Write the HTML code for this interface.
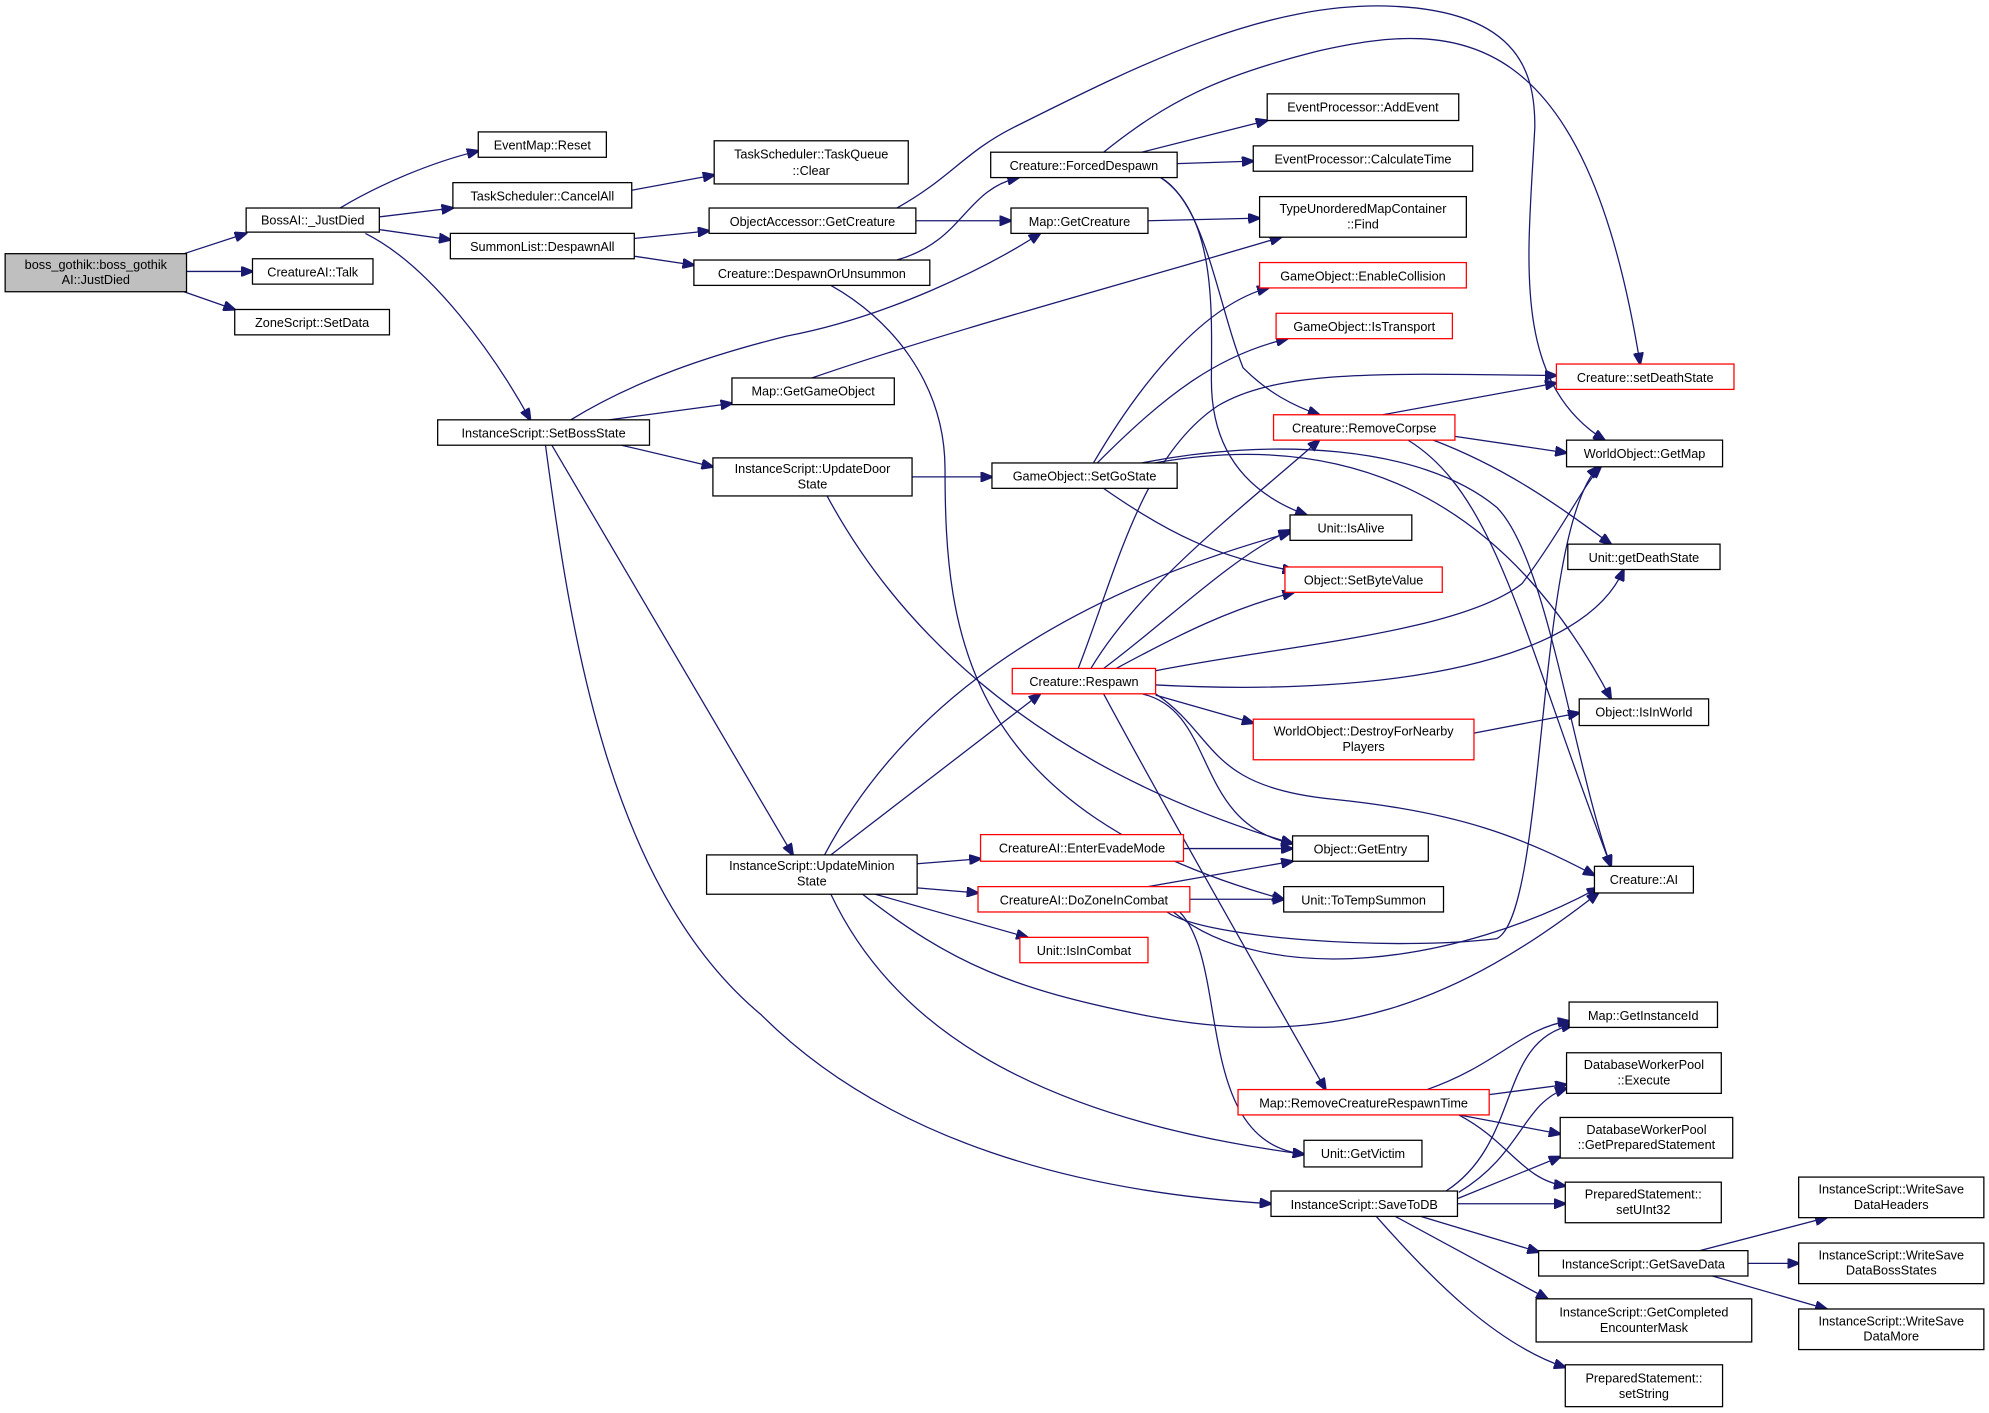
<!DOCTYPE html>
<html><head><meta charset="utf-8"><style>
html,body{margin:0;padding:0;background:#fff;}
svg{display:block;}
text{font-family:"Liberation Sans",sans-serif;font-size:10px;fill:#000;text-anchor:middle;}
.n{fill:#fff;stroke:#000;stroke-width:1;}
.r{fill:#fff;stroke:#ff0000;stroke-width:1;}
.g{fill:#bfbfbf;stroke:#000;stroke-width:1;}
path{fill:none;stroke:#191970;stroke-width:1;marker-end:url(#a);}
</style></head><body>
<svg width="1989" height="1413" viewBox="0 0 1568 1114" xmlns="http://www.w3.org/2000/svg">
<defs><marker id="a" markerWidth="10" markerHeight="8" refX="9" refY="4" orient="auto" markerUnits="userSpaceOnUse"><polygon points="0,0 10,4 0,8" fill="#191970" stroke="#191970"/></marker></defs>

<!-- edges -->
<path d="M145,200 L194,184"/>
<path d="M147,214 L199,214"/>
<path d="M145,230 L185,244"/>
<path d="M268,164 C300,145 340,128 377,119"/>
<path d="M299,171 L357,164"/>
<path d="M299,181 L355,189"/>
<path d="M288,184 C340,210 390,280 418,331"/>
<path d="M498,150 L563,138"/>
<path d="M500,188 L559,182"/>
<path d="M500,202 L547,209"/>
<path d="M722,174 L797,174"/>
<path d="M707,164 C750,140 760,120 800,100 C900,50 1000,0 1100,5 C1200,10 1210,60 1210,100 C1205,200 1190,300 1265,347"/>
<path d="M707,205 C760,190 760,150 803,140"/>
<path d="M655,225 C700,250 745,300 745,370 C745,500 760,640 1012,709"/>
<path d="M900,120 L999,95"/>
<path d="M928,129 L988,127"/>
<path d="M870,120 C920,80 960,60 1040,40 C1150,15 1250,20 1293,287"/>
<path d="M915,140 C950,160 960,240 980,290 C1000,310 1020,320 1040,327"/>
<path d="M915,140 C960,170 955,250 955,300 C955,370 1000,395 1030,406"/>
<path d="M905,174 L993,172"/>
<path d="M450,331 C500,300 560,280 620,265 C700,250 780,210 820,184"/>
<path d="M480,331 L577,318"/>
<path d="M490,351 L562,368"/>
<path d="M435,351 L625,674"/>
<path d="M430,351 C450,500 480,700 600,800 C700,900 850,940 1002,949"/>
<path d="M640,298 C750,260 900,220 1010,187"/>
<path d="M719,376 L782,376"/>
<path d="M652,391 C700,480 800,600 1019,665"/>
<path d="M862,365 C900,300 950,240 1000,227"/>
<path d="M865,365 C920,310 960,280 1015,267"/>
<path d="M870,385 C920,420 960,440 1020,450"/>
<path d="M900,365 C1000,345 1120,350 1180,400 C1220,440 1240,600 1270,683"/>
<path d="M910,365 C1050,340 1180,380 1270,551"/>
<path d="M850,527 C880,450 900,360 960,320 C1010,290 1100,295 1227,296"/>
<path d="M860,527 C900,460 980,400 1040,347"/>
<path d="M870,527 C920,490 970,440 1017,418"/>
<path d="M880,527 C930,500 970,480 1020,467"/>
<path d="M905,530 C1000,510 1150,500 1200,460 C1230,420 1250,380 1262,368"/>
<path d="M911,540 C1100,550 1250,520 1280,449"/>
<path d="M911,548 L988,570"/>
<path d="M900,547 C960,560 940,650 1019,665"/>
<path d="M911,547 C960,580 950,620 1050,630 C1150,640 1200,660 1257,690"/>
<path d="M870,547 C920,640 1000,780 1045,859"/>
<path d="M1162,578 L1245,562"/>
<path d="M1090,327 L1227,302"/>
<path d="M1147,344 L1235,357"/>
<path d="M1130,347 C1190,370 1230,400 1270,429"/>
<path d="M1110,347 C1180,390 1200,500 1270,683"/>
<path d="M650,674 C700,580 800,480 1017,420"/>
<path d="M655,674 L820,547"/>
<path d="M723,681 L773,677"/>
<path d="M723,700 L771,704"/>
<path d="M690,705 L810,739"/>
<path d="M680,705 C750,760 800,780 900,800 C1050,830 1150,790 1260,704"/>
<path d="M655,705 C700,800 800,880 1028,910"/>
<path d="M933,669 L1019,669"/>
<path d="M905,699 L1019,679"/>
<path d="M938,709 L1012,709"/>
<path d="M920,719 C950,740 1100,750 1180,740 C1220,720 1210,420 1260,368"/>
<path d="M925,719 C1000,780 1150,760 1260,700"/>
<path d="M930,719 C970,760 940,900 1028,910"/>
<path d="M1125,859 C1180,840 1200,810 1237,805"/>
<path d="M1174,863 L1235,855"/>
<path d="M1150,879 L1230,894"/>
<path d="M1150,879 C1190,900 1200,930 1234,935"/>
<path d="M1140,939 C1200,900 1180,820 1240,808"/>
<path d="M1150,940 C1200,910 1200,870 1235,858"/>
<path d="M1149,945 L1230,912"/>
<path d="M1149,949 L1234,949"/>
<path d="M1120,959 L1213,987"/>
<path d="M1100,959 L1220,1024"/>
<path d="M1085,959 C1130,1010 1180,1060 1234,1078"/>
<path d="M1340,986 L1440,960"/>
<path d="M1378,996 L1418,996"/>
<path d="M1350,1006 L1440,1032"/>

<!-- nodes -->
<rect class="g" x="4" y="200" width="143" height="30"/><text x="75.5" y="212">boss_gothik::boss_gothik</text><text x="75.5" y="224">AI::JustDied</text>
<rect class="n" x="194" y="164" width="105" height="19"/><text x="246.5" y="177">BossAI::_JustDied</text>
<rect class="n" x="199" y="204" width="95" height="20"/><text x="246.5" y="218">CreatureAI::Talk</text>
<rect class="n" x="185" y="244" width="122" height="20"/><text x="246" y="258">ZoneScript::SetData</text>
<rect class="n" x="377" y="104" width="101" height="20"/><text x="427.5" y="118">EventMap::Reset</text>
<rect class="n" x="357" y="144" width="141" height="20"/><text x="427.5" y="158">TaskScheduler::CancelAll</text>
<rect class="n" x="355" y="184" width="145" height="20"/><text x="427.5" y="198">SummonList::DespawnAll</text>
<rect class="n" x="345" y="331" width="167" height="20"/><text x="428.5" y="345">InstanceScript::SetBossState</text>
<rect class="n" x="563" y="111" width="153" height="34"/><text x="639.5" y="125">TaskScheduler::TaskQueue</text><text x="639.5" y="138">::Clear</text>
<rect class="n" x="559" y="164" width="163" height="20"/><text x="640.5" y="178">ObjectAccessor::GetCreature</text>
<rect class="n" x="547" y="205" width="186" height="20"/><text x="640" y="219">Creature::DespawnOrUnsummon</text>
<rect class="n" x="577" y="298" width="128" height="21"/><text x="641" y="312">Map::GetGameObject</text>
<rect class="n" x="562" y="361" width="157" height="30"/><text x="640.5" y="373">InstanceScript::UpdateDoor</text><text x="640.5" y="385">State</text>
<rect class="n" x="557" y="674" width="166" height="31"/><text x="640" y="686">InstanceScript::UpdateMinion</text><text x="640" y="698">State</text>
<rect class="n" x="781" y="120" width="147" height="20"/><text x="854.5" y="134">Creature::ForcedDespawn</text>
<rect class="n" x="797" y="164" width="108" height="20"/><text x="851" y="178">Map::GetCreature</text>
<rect class="n" x="782" y="365" width="146" height="20"/><text x="855" y="379">GameObject::SetGoState</text>
<rect class="r" x="798" y="527" width="113" height="20"/><text x="854.5" y="541">Creature::Respawn</text>
<rect class="r" x="773" y="658" width="160" height="21"/><text x="853" y="672">CreatureAI::EnterEvadeMode</text>
<rect class="r" x="771" y="699" width="167" height="20"/><text x="854.5" y="713">CreatureAI::DoZoneInCombat</text>
<rect class="r" x="804" y="739" width="101" height="20"/><text x="854.5" y="753">Unit::IsInCombat</text>
<rect class="n" x="999" y="74" width="151" height="21"/><text x="1074.5" y="88">EventProcessor::AddEvent</text>
<rect class="n" x="988" y="115" width="173" height="20"/><text x="1074.5" y="129">EventProcessor::CalculateTime</text>
<rect class="n" x="993" y="155" width="163" height="32"/><text x="1074.5" y="168">TypeUnorderedMapContainer</text><text x="1074.5" y="180">::Find</text>
<rect class="r" x="993" y="207" width="163" height="20"/><text x="1074.5" y="221">GameObject::EnableCollision</text>
<rect class="r" x="1006" y="247" width="139" height="20"/><text x="1075.5" y="261">GameObject::IsTransport</text>
<rect class="r" x="1004" y="327" width="143" height="20"/><text x="1075.5" y="341">Creature::RemoveCorpse</text>
<rect class="n" x="1017" y="406" width="96" height="20"/><text x="1065" y="420">Unit::IsAlive</text>
<rect class="r" x="1013" y="447" width="124" height="20"/><text x="1075" y="461">Object::SetByteValue</text>
<rect class="r" x="988" y="567" width="174" height="32"/><text x="1075" y="580">WorldObject::DestroyForNearby</text><text x="1075" y="592">Players</text>
<rect class="n" x="1019" y="659" width="107" height="20"/><text x="1072.5" y="673">Object::GetEntry</text>
<rect class="n" x="1012" y="699" width="126" height="20"/><text x="1075" y="713">Unit::ToTempSummon</text>
<rect class="r" x="976" y="859" width="198" height="20"/><text x="1075" y="873">Map::RemoveCreatureRespawnTime</text>
<rect class="n" x="1028" y="899" width="93" height="21"/><text x="1074.5" y="913">Unit::GetVictim</text>
<rect class="n" x="1002" y="939" width="147" height="20"/><text x="1075.5" y="953">InstanceScript::SaveToDB</text>
<rect class="r" x="1227" y="287" width="140" height="20"/><text x="1297" y="301">Creature::setDeathState</text>
<rect class="n" x="1235" y="347" width="123" height="21"/><text x="1296.5" y="361">WorldObject::GetMap</text>
<rect class="n" x="1236" y="429" width="120" height="20"/><text x="1296" y="443">Unit::getDeathState</text>
<rect class="n" x="1245" y="551" width="102" height="21"/><text x="1296" y="565">Object::IsInWorld</text>
<rect class="n" x="1257" y="683" width="78" height="21"/><text x="1296" y="697">Creature::AI</text>
<rect class="n" x="1237" y="790" width="117" height="20"/><text x="1295.5" y="804">Map::GetInstanceId</text>
<rect class="n" x="1235" y="830" width="122" height="32"/><text x="1296" y="843">DatabaseWorkerPool</text><text x="1296" y="855">::Execute</text>
<rect class="n" x="1230" y="881" width="136" height="32"/><text x="1298" y="894">DatabaseWorkerPool</text><text x="1298" y="906">::GetPreparedStatement</text>
<rect class="n" x="1234" y="932" width="123" height="32"/><text x="1295.5" y="945">PreparedStatement::</text><text x="1295.5" y="957">setUInt32</text>
<rect class="n" x="1213" y="986" width="165" height="20"/><text x="1295.5" y="1000">InstanceScript::GetSaveData</text>
<rect class="n" x="1211" y="1024" width="170" height="34"/><text x="1296" y="1038">InstanceScript::GetCompleted</text><text x="1296" y="1050">EncounterMask</text>
<rect class="n" x="1234" y="1076" width="124" height="33"/><text x="1296" y="1090">PreparedStatement::</text><text x="1296" y="1102">setString</text>
<rect class="n" x="1418" y="928" width="146" height="32"/><text x="1491" y="941">InstanceScript::WriteSave</text><text x="1491" y="953">DataHeaders</text>
<rect class="n" x="1418" y="980" width="146" height="32"/><text x="1491" y="993">InstanceScript::WriteSave</text><text x="1491" y="1005">DataBossStates</text>
<rect class="n" x="1418" y="1032" width="146" height="32"/><text x="1491" y="1045">InstanceScript::WriteSave</text><text x="1491" y="1057">DataMore</text>
</svg>
</body></html>
